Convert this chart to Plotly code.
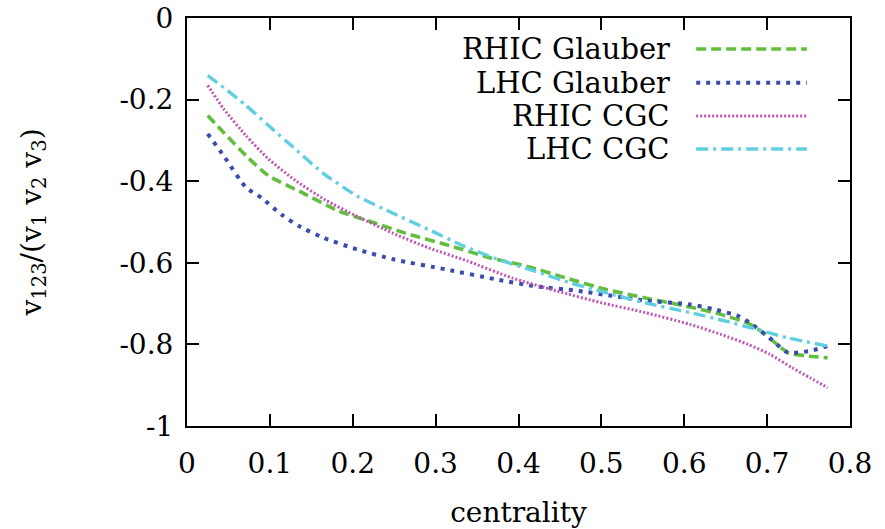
import plotly.graph_objects as go

# ---- data ----
rhic_glauber_x = [0.025, 0.044, 0.071, 0.098, 0.14, 0.183, 0.226, 0.269, 0.312, 0.366, 0.409, 0.457,
                  0.505, 0.553, 0.602, 0.645, 0.68, 0.698, 0.725, 0.752, 0.773]
rhic_glauber_y = [-0.239, -0.28, -0.337, -0.386, -0.429, -0.473, -0.502, -0.531, -0.555, -0.588, -0.608, -0.637,
                  -0.665, -0.686, -0.706, -0.727, -0.751, -0.776, -0.82, -0.829, -0.833]

lhc_glauber_x = [0.025, 0.044, 0.071, 0.09, 0.114, 0.135, 0.165, 0.205, 0.25, 0.312, 0.374, 0.419, 0.473,
                 0.513, 0.553, 0.607, 0.636, 0.666, 0.682, 0.703, 0.725, 0.752, 0.773]
lhc_glauber_y = [-0.284, -0.337, -0.415, -0.441, -0.482, -0.51, -0.539, -0.567, -0.592, -0.616, -0.641, -0.657, -0.669,
                 -0.681, -0.693, -0.702, -0.714, -0.731, -0.751, -0.784, -0.82, -0.816, -0.804]

rhic_cgc_x = [0.025, 0.044, 0.071, 0.098, 0.13, 0.167, 0.205, 0.248, 0.291, 0.339, 0.392, 0.446, 0.5,
              0.553, 0.607, 0.645, 0.677, 0.703, 0.73, 0.752, 0.773]
rhic_cgc_y = [-0.165, -0.222, -0.288, -0.345, -0.397, -0.446, -0.486, -0.527, -0.563, -0.596, -0.637, -0.669, -0.698,
              -0.722, -0.751, -0.776, -0.8, -0.824, -0.857, -0.882, -0.906]

lhc_cgc_x = [0.025, 0.044, 0.071, 0.098, 0.13, 0.164, 0.205, 0.248, 0.291, 0.334, 0.376, 0.419, 0.462,
             0.505, 0.553, 0.607, 0.65, 0.687, 0.725, 0.773]
lhc_cgc_y = [-0.141, -0.17, -0.214, -0.263, -0.32, -0.38, -0.436, -0.478, -0.518, -0.559, -0.592, -0.62, -0.649,
             -0.673, -0.698, -0.722, -0.743, -0.763, -0.784, -0.804]

series_names = ["RHIC Glauber", "LHC Glauber", "RHIC CGC", "LHC CGC"]
x_ticks = [0, 0.1, 0.2, 0.3, 0.4, 0.5, 0.6, 0.7, 0.8]
x_tick_labels = ["0", "0.1", "0.2", "0.3", "0.4", "0.5", "0.6", "0.7", "0.8"]
y_ticks = [0, -0.2, -0.4, -0.6, -0.8, -1]
y_tick_labels = ["0", "-0.2", "-0.4", "-0.6", "-0.8", "-1"]

# ---- styles ----
FONT = "DejaVu Serif"
styles = [
    dict(color="#62bf3e", width=3.6, dash="10px,5px"),
    dict(color="#3a4cb0", width=4.0, dash="4px,6px"),
    dict(color="#c055b3", width=3.0, dash="2px,2px"),
    dict(color="#61cfe2", width=3.4, dash="12px,5px,3px,5px"),
]
xs = [rhic_glauber_x, lhc_glauber_x, rhic_cgc_x, lhc_cgc_x]
ys = [rhic_glauber_y, lhc_glauber_y, rhic_cgc_y, lhc_cgc_y]

fig = go.Figure()
for name, x, y, st in zip(series_names, xs, ys, styles):
    fig.add_trace(go.Scatter(x=x, y=y, mode="lines", name=name, line=dict(shape="spline", smoothing=0.6, **st),
                             showlegend=False))

# legend drawn as right-aligned text with line samples on the right (gnuplot style)
legend_rows_y = [0.924, 0.841, 0.760, 0.679]
for name, st, yy in zip(series_names, styles, legend_rows_y):
    fig.add_annotation(x=0.7315, y=yy, xref="paper", yref="paper", text=name, showarrow=False,
                       xanchor="right", yanchor="middle", font=dict(family=FONT, size=29, color="black"))
    fig.add_shape(type="line", xref="paper", yref="paper", x0=0.768, x1=0.935, y0=yy, y1=yy,
                  line=dict(color=st["color"], width=st["width"], dash=st["dash"]))

axis_common = dict(showline=True, linecolor="black", linewidth=2, mirror="ticks", ticks="inside",
                   ticklen=12, tickwidth=2, tickcolor="black", showgrid=False, zeroline=False,
                   tickfont=dict(family=FONT, size=28, color="black"))

fig.update_xaxes(range=[0, 0.8], tickvals=x_ticks, ticktext=x_tick_labels, ticklabelstandoff=11,
                 title=dict(text="centrality", font=dict(family=FONT, size=28, color="black"), standoff=24),
                 **axis_common)
fig.update_yaxes(range=[-1, 0], tickvals=y_ticks, ticktext=y_tick_labels, ticklabelstandoff=6,
                 title=dict(text="v<sub>123</sub>/(v<sub>1</sub> v<sub>2</sub> v<sub>3</sub>)",
                            font=dict(family=FONT, size=28, color="black"), standoff=70),
                 **axis_common)

fig.update_layout(width=885, height=529, margin=dict(l=187, r=35, t=18, b=103, autoexpand=False),
                  plot_bgcolor="white", paper_bgcolor="white")

fig.write_html("out.html")
